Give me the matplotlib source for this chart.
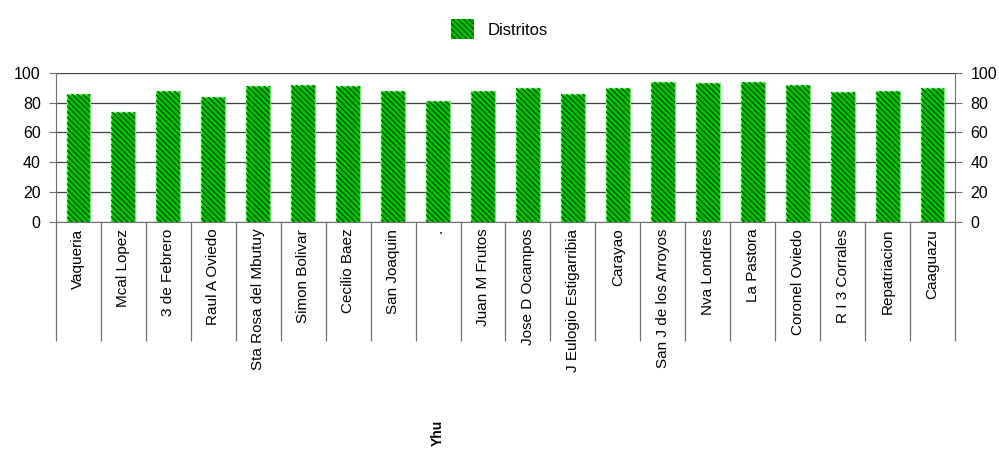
import numpy as np
import matplotlib
matplotlib.use("Agg")
import matplotlib.pyplot as plt
from matplotlib.patches import Patch

plt.rcParams['font.family'] = ['Liberation Sans', 'DejaVu Sans']
plt.rcParams['hatch.linewidth'] = 0.7

# datos
distritos = ["Vaqueria", "Mcal Lopez", "3 de Febrero", "Raul A Oviedo", "Sta Rosa del Mbutuy",
             "Simon Bolivar", "Cecilio Baez", "San Joaquin", "Yhu", "Juan M Frutos",
             "Jose D Ocampos", "J Eulogio Estigarribia", "Carayao", "San J de los Arroyos",
             "Nva Londres", "La Pastora", "Coronel Oviedo", "R I 3 Corrales", "Repatriacion",
             "Caaguazu"]
valores = [86, 74, 88, 84, 91, 92, 91, 88, 81, 88, 90, 86, 90, 94, 93, 94, 92, 87, 88, 90]
yticks = [0, 20, 40, 60, 80, 100]

fig = plt.figure(figsize=(9.99, 4.5), dpi=100)
ax = fig.add_axes([0.056, 0.507, 0.9, 0.331])

x = np.arange(len(distritos))
verde = '#00C000'
trama = '\\' * 6
ax.bar(x, valores, width=0.53, color=verde, edgecolor='#66EE66', linewidth=1.0, zorder=3)
ax.bar(x, valores, width=0.53, color='none', edgecolor='#003300', hatch=trama,
       linewidth=0, zorder=4)

ax.set_xlim(-0.5, len(distritos) - 0.5)
ax.set_ylim(0, 100)
ax.set_yticks(yticks)
ax.yaxis.grid(True, color='#404040', linewidth=0.9, zorder=0)
ax.tick_params(axis='y', which='both', left=True, right=True, labelleft=True,
               labelright=True, labelsize=11.5, direction='out', length=5,
               color='#707070', pad=6)

# separadores de categorias (marcas largas)
ax.set_xticks(np.arange(len(distritos) + 1) - 0.5)
ax.set_xticklabels([])
ax.tick_params(axis='x', which='major', direction='out', length=86,
               color='#707070', width=0.9)
ax.set_xticks(x, minor=True)
etiquetas = ["." if d == "Yhu" else d for d in distritos]
ax.set_xticklabels(etiquetas, minor=True, rotation=90, fontsize=11, va='top')
ax.tick_params(axis='x', which='minor', length=0, pad=5)
i = distritos.index("Yhu")
ax.text(i, -150.5, "Yhu", rotation=90, ha='center', va='bottom', fontsize=10,
        fontweight='bold', transform=ax.transData, clip_on=False)

for s in ['left', 'right']:
    ax.spines[s].set_color('#707070')
ax.spines['top'].set_visible(False)
ax.spines['bottom'].set_color('#707070')

leg = fig.legend(handles=[Patch(facecolor=verde, edgecolor='#003300', hatch=trama,
                                linewidth=0, label='Distritos')],
                 loc='upper center', bbox_to_anchor=(0.5, 0.99), frameon=False,
                 fontsize=12, handlelength=1.4, handleheight=1.4)

fig.savefig('out.png', dpi=100)
